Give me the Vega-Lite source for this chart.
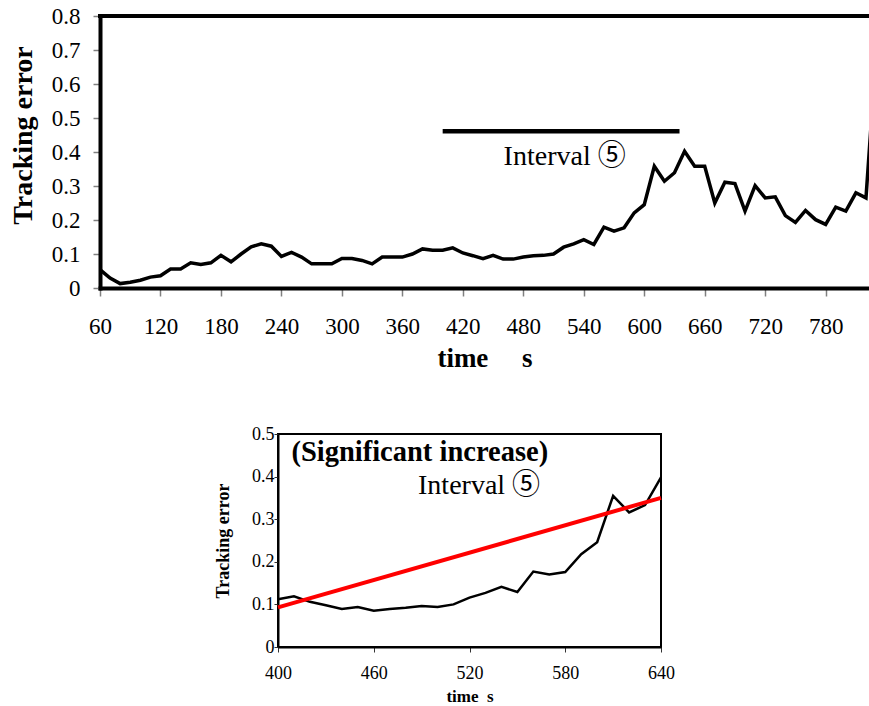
{
  "$schema": "https://vega.github.io/schema/vega-lite/v6.json",
  "padding": {"left": 9, "top": 5, "right": 0, "bottom": 0},
  "background": "white",
  "config": {
    "font": "Liberation Serif",
    "view": {"stroke": null},
    "axisY": {"labelOverlap": false},
    "axisLeft": {"labelOverlap": false}
  },
  "datasets": {
    "full": [
      {"t": 60, "v": 0.054}, {"t": 70, "v": 0.029}, {"t": 80, "v": 0.013}, {"t": 90, "v": 0.017},
      {"t": 100, "v": 0.023}, {"t": 110, "v": 0.032}, {"t": 120, "v": 0.036}, {"t": 130, "v": 0.056},
      {"t": 140, "v": 0.056}, {"t": 150, "v": 0.074}, {"t": 160, "v": 0.069}, {"t": 170, "v": 0.074},
      {"t": 180, "v": 0.096}, {"t": 190, "v": 0.077}, {"t": 200, "v": 0.1}, {"t": 210, "v": 0.121},
      {"t": 220, "v": 0.13}, {"t": 230, "v": 0.123}, {"t": 240, "v": 0.093}, {"t": 250, "v": 0.105},
      {"t": 260, "v": 0.091}, {"t": 270, "v": 0.071}, {"t": 280, "v": 0.071}, {"t": 290, "v": 0.071},
      {"t": 300, "v": 0.087}, {"t": 310, "v": 0.087}, {"t": 320, "v": 0.081}, {"t": 330, "v": 0.071},
      {"t": 340, "v": 0.091}, {"t": 350, "v": 0.091}, {"t": 360, "v": 0.091}, {"t": 370, "v": 0.1},
      {"t": 380, "v": 0.115}, {"t": 390, "v": 0.111}, {"t": 400, "v": 0.111}, {"t": 410, "v": 0.118},
      {"t": 420, "v": 0.103}, {"t": 430, "v": 0.095}, {"t": 440, "v": 0.086}, {"t": 450, "v": 0.096},
      {"t": 460, "v": 0.085}, {"t": 470, "v": 0.085}, {"t": 480, "v": 0.091}, {"t": 490, "v": 0.095},
      {"t": 500, "v": 0.096}, {"t": 510, "v": 0.1}, {"t": 520, "v": 0.12}, {"t": 530, "v": 0.13},
      {"t": 540, "v": 0.142}, {"t": 550, "v": 0.128}, {"t": 560, "v": 0.179}, {"t": 570, "v": 0.167},
      {"t": 580, "v": 0.177}, {"t": 590, "v": 0.221}, {"t": 600, "v": 0.245}, {"t": 610, "v": 0.358},
      {"t": 620, "v": 0.314}, {"t": 630, "v": 0.339}, {"t": 640, "v": 0.402}, {"t": 650, "v": 0.358},
      {"t": 660, "v": 0.358}, {"t": 670, "v": 0.25}, {"t": 680, "v": 0.311}, {"t": 690, "v": 0.307},
      {"t": 700, "v": 0.226}, {"t": 710, "v": 0.301}, {"t": 720, "v": 0.265}, {"t": 730, "v": 0.268},
      {"t": 740, "v": 0.213}, {"t": 750, "v": 0.193}, {"t": 760, "v": 0.228}, {"t": 770, "v": 0.201},
      {"t": 780, "v": 0.187}, {"t": 790, "v": 0.238}, {"t": 800, "v": 0.226}, {"t": 810, "v": 0.28},
      {"t": 820, "v": 0.265}, {"t": 830, "v": 0.69}
    ],
    "frame": [{"t1": 60, "t2": 823, "v": 0.8}],
    "bar": [{"t1": 400, "t2": 635, "v": 0.461}],
    "topLabel": [{"t": 521, "v": 0.363, "label": "Interval ⑤"}],
    "zoom": [
      {"t": 400, "v": 0.112}, {"t": 410, "v": 0.119}, {"t": 420, "v": 0.106}, {"t": 430, "v": 0.098},
      {"t": 440, "v": 0.089}, {"t": 450, "v": 0.094}, {"t": 460, "v": 0.085}, {"t": 470, "v": 0.089},
      {"t": 480, "v": 0.092}, {"t": 490, "v": 0.096}, {"t": 500, "v": 0.094}, {"t": 510, "v": 0.1},
      {"t": 520, "v": 0.116}, {"t": 530, "v": 0.127}, {"t": 540, "v": 0.141}, {"t": 550, "v": 0.129},
      {"t": 560, "v": 0.177}, {"t": 570, "v": 0.17}, {"t": 580, "v": 0.176}, {"t": 590, "v": 0.218},
      {"t": 600, "v": 0.246}, {"t": 610, "v": 0.355}, {"t": 620, "v": 0.316}, {"t": 630, "v": 0.333},
      {"t": 640, "v": 0.398}
    ],
    "fit": [{"t": 400, "v": 0.093}, {"t": 640, "v": 0.35}],
    "headline": [{"t": 408.4, "v": 0.437, "label": "(Significant increase)"}],
    "zoomLabel": [{"t": 526, "v": 0.359, "label": "Interval ⑤"}]
  },
  "spacing": 53,
  "center": false,
  "vconcat": [
    {
      "width": 769,
      "height": 272,
      "encoding": {
        "y": {
          "field": "v", "type": "quantitative",
          "scale": {"domain": [0, 0.8], "nice": false},
          "axis": {
            "grid": false,
            "values": [0, 0.1, 0.2, 0.3, 0.4, 0.5, 0.6, 0.7, 0.8],
            "format": ".1~f", "labelFlush": false, "labelOverlap": false,
            "domainColor": "black", "domainWidth": 4, "domainCap": "square",
            "tickColor": "#808080", "tickWidth": 1.5, "tickSize": 7,
            "labelFont": "Liberation Serif", "labelColor": "black", "labelFontSize": 23, "labelPadding": 13,
            "title": "Tracking error", "titleFont": "Liberation Serif", "titleColor": "black", "titleFontSize": 28, "titleFontWeight": "bold", "titlePadding": 14, "titleY": 119
          }
        }
      },
      "layer": [
        {
          "data": {"name": "full"},
          "mark": {"type": "line", "color": "black", "strokeWidth": 3.5, "clip": true},
          "encoding": {
            "x": {
              "field": "t", "type": "quantitative",
              "scale": {"domain": [60, 823], "nice": false, "zero": false},
              "axis": {
                "orient": "bottom", "grid": false,
                "values": [60, 120, 180, 240, 300, 360, 420, 480, 540, 600, 660, 720, 780],
                "labelFlush": false, "labelOverlap": false,
                "domainColor": "black", "domainWidth": 4, "domainCap": "square",
                "tickColor": "#808080", "tickWidth": 1.5, "tickSize": 8,
                "labelFont": "Liberation Serif", "labelColor": "black", "labelFontSize": 23, "labelPadding": 19,
                "title": "time\u00a0\u00a0\u00a0\u00a0\u00a0s", "titleFont": "Liberation Serif", "titleColor": "black", "titleFontSize": 27, "titleFontWeight": "bold", "titlePadding": 7
              }
            }
          }
        },
        {
          "data": {"name": "frame"},
          "mark": {"type": "rule", "color": "black", "strokeWidth": 4, "strokeCap": "square"},
          "encoding": {
            "x": {"field": "t1", "type": "quantitative"},
            "x2": {"field": "t2"}
          }
        },
        {
          "data": {"name": "bar"},
          "mark": {"type": "rule", "color": "black", "strokeWidth": 4.5},
          "encoding": {
            "x": {"field": "t1", "type": "quantitative"},
            "x2": {"field": "t2"}
          }
        },
        {
          "data": {"name": "topLabel"},
          "mark": {"type": "text", "font": "Liberation Serif, 'Noto Sans CJK JP'", "fontSize": 28, "align": "center", "baseline": "alphabetic", "color": "black"},
          "encoding": {
            "x": {"field": "t", "type": "quantitative"},
            "text": {"field": "label"}
          }
        }
      ]
    },
    {
      "spacing": 0,
      "hconcat": [
        {
          "width": 113,
          "height": 10,
          "data": {"values": []},
          "mark": {"type": "rule", "opacity": 0},
          "encoding": {}
        },
        {
          "width": 383,
          "height": 213,
          "view": {"stroke": "black", "strokeWidth": 2},
          "encoding": {
            "y": {
              "field": "v", "type": "quantitative",
              "scale": {"domain": [0, 0.5], "nice": false},
              "axis": {
                "grid": false,
                "values": [0, 0.1, 0.2, 0.3, 0.4, 0.5],
                "format": ".1~f", "labelFlush": false, "labelOverlap": false,
                "domainColor": "black", "domainWidth": 2,
                "tickColor": "#333333", "tickWidth": 1, "tickSize": 4,
                "labelFont": "Liberation Serif", "labelColor": "black", "labelFontSize": 18, "labelPadding": 0,
                "title": "Tracking error", "titleFont": "Liberation Serif", "titleColor": "black", "titleFontSize": 18, "titleFontWeight": "bold", "titlePadding": 19
              }
            }
          },
          "layer": [
            {
              "data": {"name": "zoom"},
              "mark": {"type": "line", "color": "black", "strokeWidth": 2.5},
              "encoding": {
                "x": {
                  "field": "t", "type": "quantitative",
                  "scale": {"domain": [400, 640], "nice": false, "zero": false},
                  "axis": {
                    "grid": false,
                    "values": [400, 460, 520, 580, 640],
                    "labelFlush": false, "labelOverlap": false,
                    "domainColor": "black", "domainWidth": 2,
                    "tickColor": "#333333", "tickWidth": 1, "tickSize": 5,
                    "labelFont": "Liberation Serif", "labelColor": "black", "labelFontSize": 18, "labelPadding": 12,
                    "title": "time\u00a0\u00a0s", "titleFont": "Liberation Serif", "titleColor": "black", "titleFontSize": 17, "titleFontWeight": "bold", "titlePadding": 6
                  }
                }
              }
            },
            {
              "data": {"name": "fit"},
              "mark": {"type": "line", "color": "#ff0000", "strokeWidth": 4},
              "encoding": {
                "x": {"field": "t", "type": "quantitative"}
              }
            },
            {
              "data": {"name": "headline"},
              "mark": {"type": "text", "font": "Liberation Serif", "fontSize": 28.5, "fontWeight": "bold", "align": "left", "baseline": "alphabetic", "color": "black"},
              "encoding": {
                "x": {"field": "t", "type": "quantitative"},
                "text": {"field": "label"}
              }
            },
            {
              "data": {"name": "zoomLabel"},
              "mark": {"type": "text", "font": "Liberation Serif, 'Noto Sans CJK JP'", "fontSize": 28, "align": "center", "baseline": "alphabetic", "color": "black"},
              "encoding": {
                "x": {"field": "t", "type": "quantitative"},
                "text": {"field": "label"}
              }
            }
          ]
        }
      ]
    }
  ]
}
